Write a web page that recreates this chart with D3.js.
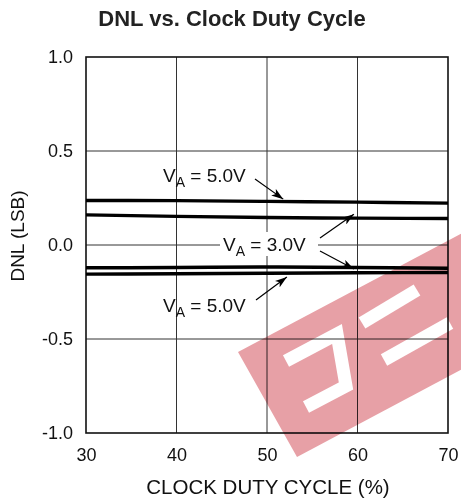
<!DOCTYPE html>
<html>
<head>
<meta charset="utf-8">
<script src="https://cdn.jsdelivr.net/npm/d3@7"></script>
<style>
body { margin: 0; background: #fff; }
svg { display: block; font-family: "Liberation Sans", Arial, sans-serif; }
</style>
</head>
<body>
<div id="wrapper"></div>
<script>
// duty cycle (%) sample points
let duty = [30, 40, 50, 60, 70];
// DNL curves (LSB)
let dnl5Top = [0.237, 0.236, 0.232, 0.228, 0.223];
let dnl3Top = [0.160, 0.152, 0.146, 0.143, 0.141];
let dnl3Bot = [-0.121, -0.120, -0.117, -0.120, -0.124];
let dnl5Bot = [-0.155, -0.153, -0.150, -0.148, -0.146];
let xTicks = [30, 40, 50, 60, 70];
let yTicks = [-1.0, -0.5, 0.0, 0.5, 1.0];

let series = [dnl5Top, dnl3Top, dnl3Bot, dnl5Bot];

let W = 461, H = 502;
let m = { left: 86, right: 13, top: 57, bottom: 69 };

let x = d3.scaleLinear().domain([30, 70]).range([m.left, W - m.right]);
let y = d3.scaleLinear().domain([-1, 1]).range([H - m.bottom, m.top]);

let svg = d3.select('#wrapper')
    .append('svg')
    .attr('width', W)
    .attr('height', H);

// title
svg.append('text')
    .attr('x', 232).attr('y', 26)
    .attr('text-anchor', 'middle')
    .style('font-weight', 'bold')
    .style('font-size', '22px')
    .style('fill', '#222')
    .text('DNL vs. Clock Duty Cycle');

// grid
let grid = svg.append('g');
grid.selectAll('line.gx')
    .data(xTicks.slice(1, -1))
    .enter()
    .append('line')
    .attr('x1', function (d) { return x(d) })
    .attr('x2', function (d) { return x(d) })
    .attr('y1', y(1)).attr('y2', y(-1))
    .style('stroke', '#333').style('stroke-width', 1);
grid.selectAll('line.gy')
    .data(yTicks.slice(1, -1))
    .enter()
    .append('line')
    .attr('y1', function (d) { return y(d) })
    .attr('y2', function (d) { return y(d) })
    .attr('x1', x(30)).attr('x2', x(70))
    .style('stroke', '#333').style('stroke-width', 1);

// axes (labels only)
let xAxis = svg.append('g')
    .attr('transform', 'translate(0,' + y(-1) + ')')
    .call(d3.axisBottom(x).tickValues(xTicks).tickSize(0).tickPadding(15).tickFormat(d3.format('d')));
let yAxis = svg.append('g')
    .attr('transform', 'translate(' + x(30) + ',0)')
    .call(d3.axisLeft(y).tickValues(yTicks).tickSize(0).tickPadding(13)
        .tickFormat(function (d) { return d.toFixed(1) }));
[xAxis, yAxis].forEach(function (a) {
    a.select('.domain').remove();
    a.selectAll('text')
        .style('font-family', '"Liberation Sans", Arial, sans-serif')
        .style('font-size', '18px')
        .style('fill', '#111');
});

// frame
svg.append('rect')
    .attr('x', x(30)).attr('y', y(1))
    .attr('width', x(70) - x(30)).attr('height', y(-1) - y(1))
    .style('fill', 'none').style('stroke', '#111').style('stroke-width', 1.6);

// axis titles
svg.append('text')
    .attr('x', 268).attr('y', 494)
    .attr('text-anchor', 'middle')
    .style('font-size', '20.5px').style('fill', '#111')
    .text('CLOCK DUTY CYCLE (%)');
svg.append('text')
    .attr('transform', 'translate(24,236) rotate(-90)')
    .attr('text-anchor', 'middle')
    .style('font-size', '19px').style('fill', '#111')
    .text('DNL (LSB)');

// curves
let line = d3.line()
    .x(function (d, i) { return x(duty[i]) })
    .y(function (d) { return y(d) })
    .curve(d3.curveMonotoneX);
svg.append('g')
    .selectAll('path')
    .data(series)
    .enter()
    .append('path')
    .attr('d', line)
    .style('fill', 'none')
    .style('stroke', '#000')
    .style('stroke-width', 3.4);

// annotations
let defs = svg.append('defs');
defs.append('marker')
    .attr('id', 'arr')
    .attr('viewBox', '0 0 12 8')
    .attr('refX', 12).attr('refY', 4)
    .attr('markerWidth', 12).attr('markerHeight', 8)
    .attr('markerUnits', 'userSpaceOnUse')
    .attr('orient', 'auto')
    .append('path')
    .attr('d', 'M0,0 L12,4 L0,8 L3,4 Z')
    .style('fill', '#000');

function label(tx, ty, volts) {
    let t = svg.append('text')
        .attr('x', tx).attr('y', ty)
        .style('font-size', '19px').style('fill', '#111');
    t.append('tspan').text('V');
    t.append('tspan').attr('dy', 5).style('font-size', '14px').text('A');
    t.append('tspan').attr('dy', -5).text(' = ' + volts);
    return t;
}

// label background for the 3.0V note over the zero gridline
svg.append('rect')
    .attr('x', 220).attr('y', 232).attr('width', 98).attr('height', 24)
    .style('fill', '#fff');

label(163, 182, '5.0V');
label(223, 251, '3.0V');
label(163, 312, '5.0V');

function arrow(x1, y1, xv, yv) {
    svg.append('line')
        .attr('x1', x1).attr('y1', y1)
        .attr('x2', x(xv)).attr('y2', y(yv))
        .attr('marker-end', 'url(#arr)')
        .style('stroke', '#000').style('stroke-width', 1.2);
}
arrow(255, 179, 51.8, dnl5Top[2] + 0.012);
arrow(320, 238, 59.6, dnl3Top[3] + 0.02);
arrow(320, 251, 59.6, dnl3Bot[3] - 0.008);
arrow(256, 300, 52.2, dnl5Bot[2] - 0.02);

// watermark
let mask = defs.append('mask').attr('id', 'wm');
mask.append('rect').attr('width', W).attr('height', H).style('fill', '#fff');
let holes = [
    'M286,361 L337,334 L346,386 L306,407',
    'M362,323 L417,290',
    'M384,360 L450,323'
];
mask.selectAll('path')
    .data(holes)
    .enter()
    .append('path')
    .attr('d', function (d) { return d })
    .style('fill', 'none').style('stroke', '#000').style('stroke-width', 13);
svg.append('path')
    .attr('d', 'M238,352 L500,213 L500,349 L297,457 Z')
    .attr('mask', 'url(#wm)')
    .style('fill', '#e7a0a6')
    .style('mix-blend-mode', 'multiply');
</script>
</body>
</html>
